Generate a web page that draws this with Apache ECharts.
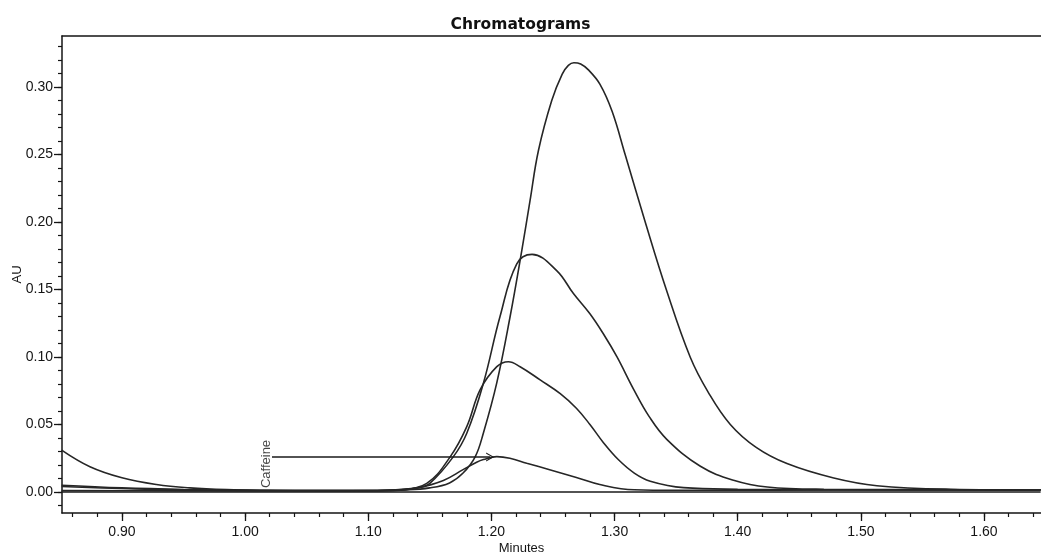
<!DOCTYPE html>
<html>
<head>
<meta charset="utf-8">
<script src="https://cdn.jsdelivr.net/npm/echarts@6/dist/echarts.min.js"></script>
<style>
  html, body { margin: 0; padding: 0; background: #fff; }
  #chart { width: 1041px; height: 554px; }
</style>
</head>
<body>
<div id="chart"></div>
<script>
// ---- Data ----
const chartTitle = 'Chromatograms';
const xName = 'Minutes';
const yName = 'AU';

const xTickLabels = [0.90, 1.00, 1.10, 1.20, 1.30, 1.40, 1.50, 1.60];
const yTickLabels = [0.00, 0.05, 0.10, 0.15, 0.20, 0.25, 0.30];
const xMinorTicks = [0.86, 0.88, 0.90, 0.92, 0.94, 0.96, 0.98, 1.00, 1.02, 1.04, 1.06, 1.08, 1.10, 1.12, 1.14, 1.16, 1.18, 1.20, 1.22, 1.24, 1.26, 1.28, 1.30, 1.32, 1.34, 1.36, 1.38, 1.40, 1.42, 1.44, 1.46, 1.48, 1.50, 1.52, 1.54, 1.56, 1.58, 1.60, 1.62, 1.64];
const yMinorTicks = [-0.01, 0.00, 0.01, 0.02, 0.03, 0.04, 0.05, 0.06, 0.07, 0.08, 0.09, 0.10, 0.11, 0.12, 0.13, 0.14, 0.15, 0.16, 0.17, 0.18, 0.19, 0.20, 0.21, 0.22, 0.23, 0.24, 0.25, 0.26, 0.27, 0.28, 0.29, 0.30, 0.31, 0.32, 0.33];

// Tallest peak (~0.318 AU)
const trace1 = [
  [0.851, 0.031], [0.874, 0.0187], [0.900, 0.0105], [0.928, 0.0055], [0.955, 0.003],
  [0.985, 0.0017], [1.020, 0.0012], [1.060, 0.001], [1.100, 0.001], [1.130, 0.0015],
  [1.150, 0.003], [1.166, 0.0067], [1.177, 0.014], [1.1868, 0.026], [1.1935, 0.0437],
  [1.2044, 0.081], [1.2152, 0.130], [1.2247, 0.179], [1.2314, 0.216], [1.2382, 0.253],
  [1.249, 0.290], [1.2575, 0.3095], [1.2625, 0.3160], [1.2670, 0.3180], [1.2725, 0.3170],
  [1.2790, 0.3125], [1.2882, 0.3020], [1.2980, 0.2820], [1.3086, 0.250], [1.3249, 0.200],
  [1.342, 0.150], [1.3614, 0.100], [1.376, 0.074], [1.394, 0.050], [1.415, 0.033],
  [1.440, 0.021], [1.478, 0.0103], [1.513, 0.0046], [1.573, 0.002], [1.646, 0.0015]
];

// Second peak (~0.176 AU)
const trace2 = [
  [0.851, 0.005], [0.900, 0.003], [0.950, 0.0018], [1.000, 0.0012], [1.050, 0.001],
  [1.100, 0.001], [1.125, 0.0015], [1.140, 0.003], [1.150, 0.0064], [1.169, 0.026],
  [1.180, 0.0435], [1.1935, 0.0805], [1.207, 0.130], [1.2206, 0.169], [1.233, 0.176],
  [1.253, 0.164], [1.2666, 0.147], [1.280, 0.132], [1.291, 0.117], [1.302, 0.100],
  [1.3155, 0.076], [1.328, 0.056], [1.3424, 0.039], [1.3697, 0.019], [1.3966, 0.0087],
  [1.424, 0.0037], [1.470, 0.002], [1.550, 0.0017], [1.646, 0.0015]
];

// Third peak (~0.096 AU)
const trace3 = [
  [0.851, 0.004], [0.900, 0.0025], [0.950, 0.0015], [1.000, 0.001], [1.050, 0.001],
  [1.100, 0.001], [1.125, 0.0018], [1.1475, 0.0064], [1.1665, 0.026], [1.180, 0.0484],
  [1.1908, 0.0756], [1.2044, 0.0928], [1.2138, 0.0965], [1.2233, 0.0928], [1.2396, 0.083],
  [1.2559, 0.0728], [1.269, 0.0620], [1.280, 0.0500], [1.291, 0.0365], [1.303, 0.0240],
  [1.316, 0.0140], [1.329, 0.008], [1.356, 0.0032], [1.400, 0.002], [1.500, 0.0015],
  [1.646, 0.0015]
];

// Smallest peak (Caffeine, ~0.026 AU)
const trace4 = [
  [0.851, 0.001], [0.950, 0.0008], [1.050, 0.0008], [1.120, 0.001], [1.140, 0.003],
  [1.161, 0.0085], [1.177, 0.0165], [1.188, 0.022], [1.1935, 0.024], [1.2044, 0.0262],
  [1.215, 0.025], [1.2287, 0.0213], [1.248, 0.0163], [1.269, 0.0107], [1.288, 0.0055],
  [1.316, 0.0016], [1.350, 0.0012], [1.500, 0.0014], [1.646, 0.0015]
];

// Zero line
const baseline = [[0.851, 0], [1.646, 0]];

// Caffeine annotation
const annotationLabel = 'Caffeine';
const annotationText = [[1.017, 0.0207]];
const annotationArrow = [[1.0218, 0.0259], [1.199, 0.0259]];

// ---- Chart ----
const ink = '#141414';
const lineBase = { type: 'line', showSymbol: false, symbol: 'none', smooth: 0.4,
  lineStyle: { color: '#262626', width: 1.6 }, z: 3, silent: true };

const chart = echarts.init(document.getElementById('chart'), null, { renderer: 'canvas' });
const labelFont = { fontFamily: 'Liberation Sans, Arial, sans-serif', fontSize: 14, color: ink };

chart.setOption({
  animation: false,
  backgroundColor: '#ffffff',
  title: {
    text: chartTitle, left: 'center', top: 12,
    textStyle: { fontFamily: 'DejaVu Sans', fontWeight: 'bold', fontSize: 15.5, color: '#111' }
  },
  grid: { left: 62, right: 0, top: 36, bottom: 41, containLabel: false, outerBoundsMode: 'none' },
  xAxis: [
    {
      type: 'value', min: 0.8513, max: 1.6463, position: 'bottom',
      name: xName, nameLocation: 'middle', nameGap: 29, nameMoveOverlap: false,
      nameTextStyle: { fontFamily: 'Liberation Sans, Arial, sans-serif', fontSize: 13, color: ink, padding: [0, 60, 0, 0] },
      axisLine: { show: true, onZero: false, lineStyle: { color: ink, width: 1.5 } },
      axisTick: { show: true, customValues: xTickLabels, length: 8, inside: false, lineStyle: { color: ink, width: 1.3 } },
      axisLabel: { show: true, customValues: xTickLabels, margin: 12, formatter: v => v.toFixed(2), ...labelFont },
      splitLine: { show: false }
    },
    {
      type: 'value', min: 0.8513, max: 1.6463, position: 'bottom',
      axisLine: { show: false, onZero: false },
      axisTick: { show: true, customValues: xMinorTicks, length: 4, lineStyle: { color: ink, width: 1.2 } },
      axisLabel: { show: false },
      splitLine: { show: false }
    },
    {
      type: 'value', min: 0.8513, max: 1.6463, position: 'top',
      axisLine: { show: true, onZero: false, lineStyle: { color: ink, width: 1.5 } },
      axisTick: { show: false }, axisLabel: { show: false }, splitLine: { show: false }
    }
  ],
  yAxis: [
    {
      type: 'value', min: -0.0156, max: 0.3378, position: 'left',
      name: yName, nameLocation: 'middle', nameGap: 38, nameRotate: 90, nameMoveOverlap: false,
      nameTextStyle: { fontFamily: 'Liberation Sans, Arial, sans-serif', fontSize: 13, color: ink },
      axisLine: { show: true, onZero: false, lineStyle: { color: ink, width: 1.5 } },
      axisTick: { show: true, customValues: yTickLabels, length: 8, lineStyle: { color: ink, width: 1.3 } },
      axisLabel: { show: true, customValues: yTickLabels, margin: 9, formatter: v => v.toFixed(2), ...labelFont },
      splitLine: { show: false }
    },
    {
      type: 'value', min: -0.0156, max: 0.3378, position: 'left',
      axisLine: { show: false, onZero: false },
      axisTick: { show: true, customValues: yMinorTicks, length: 4, lineStyle: { color: ink, width: 1.2 } },
      axisLabel: { show: false },
      splitLine: { show: false }
    }
  ],
  series: [
    { ...lineBase, name: 'baseline', data: baseline, smooth: false, lineStyle: { color: '#1a1a1a', width: 1.6 } },
    { ...lineBase, name: 'trace1', data: trace1 },
    { ...lineBase, name: 'trace2', data: trace2 },
    { ...lineBase, name: 'trace3', data: trace3 },
    {
      ...lineBase, name: 'trace4', data: trace4,
      markLine: {
        silent: true, animation: false,
        symbol: ['none', 'path://M0,10 L5,0 L10,10 L8.6,10 L5,2.6 L1.4,10 Z'],
        symbolSize: [9, 8],
        lineStyle: { color: '#1a1a1a', width: 1.5, type: 'solid' },
        label: { show: false },
        data: [[{ coord: annotationArrow[0] }, { coord: annotationArrow[1] }]]
      }
    },
    {
      type: 'scatter', name: 'label', data: annotationText, symbolSize: 1,
      itemStyle: { color: 'rgba(0,0,0,0)' }, silent: true, z: 5,
      label: {
        show: true, position: 'inside', rotate: 90, formatter: annotationLabel,
        fontFamily: 'Liberation Sans, Arial, sans-serif', fontSize: 13, color: ink,
        align: 'center', verticalAlign: 'middle'
      }
    }
  ]
});
</script>
</body>
</html>
